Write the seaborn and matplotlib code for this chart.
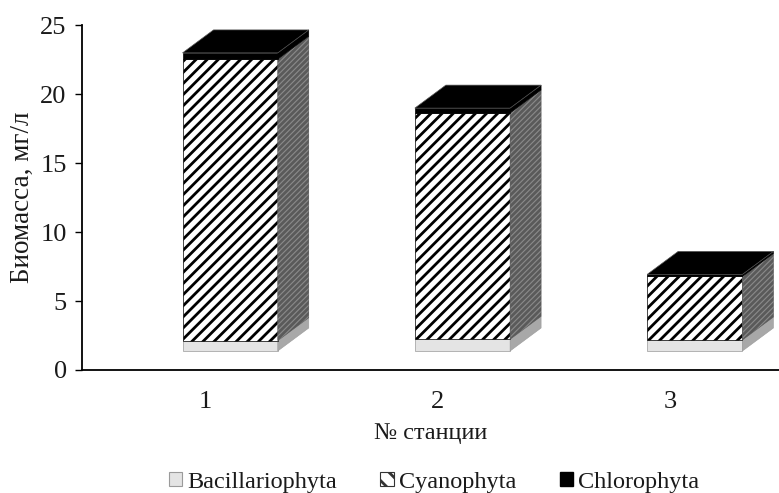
import numpy as np
import pandas as pd
import seaborn as sns
import matplotlib.pyplot as plt
from matplotlib.patches import Polygon, Patch
from matplotlib.transforms import ScaledTranslation

# biomass by station, mg/l (front face heights)
stations = ["1", "2", "3"]
bacillariophyta = [0.75, 0.85, 0.8]
cyanophyta = [20.4, 16.4, 4.6]
chlorophyta = [0.45, 0.35, 0.15]

sns.set_theme(style="white")
plt.rcParams["font.family"] = ["Liberation Serif", "DejaVu Serif"]
plt.rcParams["hatch.linewidth"] = 2.0
TXT = "#1a1a1a"

W, H, DPI = 779, 493, 100
fig = plt.figure(figsize=(W / DPI, H / DPI), dpi=DPI)
ax_l, ax_r, ax_t, ax_b = 82, 779, 25, 370
ax = fig.add_axes([ax_l / W, 1 - ax_b / H, (ax_r - ax_l) / W, (ax_b - ax_t) / H])

xlim = (-0.53, 2.47)
ylim = (0, 25)
# fake 3d: shift of the front face and depth of the box, in pixels
front_dx, front_dy = 25, 19
depth_dx, depth_dy = 31, 23
ddx = depth_dx * (xlim[1] - xlim[0]) / (ax_r - ax_l)
ddy = depth_dy * (ylim[1] - ylim[0]) / (ax_b - ax_t)
shift = ax.transData + ScaledTranslation(front_dx / DPI, front_dy / DPI, fig.dpi_scale_trans)

df = pd.DataFrame({"station": stations,
                   "Bacillariophyta": bacillariophyta,
                   "Cyanophyta": cyanophyta,
                   "Chlorophyta": chlorophyta})

layers = [
    # name, front color, side color, front hatch, side hatch, edge
    ("Bacillariophyta", "#e4e4e4", "#a8a8a8", None, None, "#9a9a9a"),
    ("Cyanophyta", "white", "#8a8a8a", "///", "//////", "black"),
    ("Chlorophyta", "black", "black", None, None, "black"),
]

bottoms = np.zeros(len(stations))
for i, (name, face, side, hatch, side_hatch, edge) in enumerate(layers):
    n0 = len(ax.patches)
    sns.barplot(data=df, x="station", y=name, bottom=bottoms, width=0.41,
                color=face, saturation=1, hatch=hatch, edgecolor=edge,
                linewidth=0.5, errorbar=None, ax=ax)
    for p in ax.patches[n0:]:
        p.set_transform(shift)
        p.set_clip_on(False)
        x, y, w, h = p.get_x(), p.get_y(), p.get_width(), p.get_height()
        sd = Polygon([(x + w, y), (x + w + ddx, y + ddy), (x + w + ddx, y + h + ddy), (x + w, y + h)],
                     closed=True, facecolor=side, edgecolor=edge if side_hatch is None else "#5a5a5a",
                     hatch=side_hatch, linewidth=0.4, transform=shift, clip_on=False)
        ax.add_patch(sd)
        if i == len(layers) - 1:
            top = Polygon([(x, y + h), (x + ddx, y + h + ddy), (x + w + ddx, y + h + ddy), (x + w, y + h)],
                          closed=True, facecolor="black", edgecolor="#555555",
                          linewidth=0.5, transform=shift, clip_on=False)
            ax.add_patch(top)
    bottoms = bottoms + np.array(df[name])

ax.set_xlim(*xlim)
ax.set_ylim(*ylim)
ax.set_yticks(range(0, 26, 5))
sns.despine(ax=ax)
for s in ["left", "bottom"]:
    ax.spines[s].set_color("black")
    ax.spines[s].set_linewidth(1.3)
ax.tick_params(axis="y", left=True, length=5, width=1, color="black", pad=6,
               labelsize=19, labelcolor=TXT)
ax.tick_params(axis="x", bottom=False, pad=9, labelsize=19, labelcolor=TXT)
ax.set_xlabel("№ станции", fontsize=17.5, color=TXT, labelpad=7)
ax.set_ylabel("Биомасса, мг/л", fontsize=19.5, color=TXT, labelpad=4)

handles = [
    Patch(facecolor="#e4e4e4", edgecolor="#9a9a9a", linewidth=0.8, label="Bacillariophyta"),
    Patch(facecolor="white", edgecolor="#333333", hatch="\\\\", linewidth=0.8, label="Cyanophyta"),
    Patch(facecolor="black", edgecolor="black", label="Chlorophyta"),
]
fig.legend(handles=handles, loc="center", bbox_to_anchor=(0.557, 0.022), ncol=3,
           frameon=False, fontsize=17.5, handlelength=0.55, handleheight=0.55,
           handletextpad=0.2, columnspacing=1.8, borderpad=0, labelcolor=TXT)

fig.savefig("out.png", dpi=DPI)
